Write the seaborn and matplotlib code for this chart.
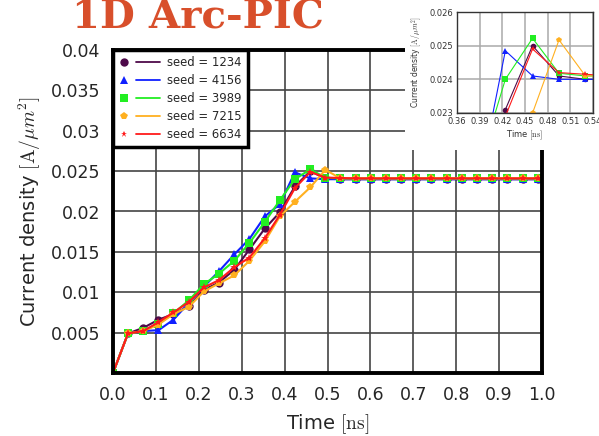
import numpy as np
import pandas as pd
import matplotlib
matplotlib.use("Agg")
import matplotlib.pyplot as plt
import seaborn as sns
from matplotlib.lines import Line2D
from matplotlib.patches import Rectangle
from matplotlib.legend_handler import HandlerBase

# ---------------- data ----------------
time_ns = [0.0, 0.035, 0.071, 0.106, 0.141, 0.177, 0.212, 0.247, 0.283, 0.318,
           0.354, 0.389, 0.424, 0.460, 0.495, 0.530, 0.566, 0.601, 0.636, 0.672,
           0.707, 0.742, 0.778, 0.813, 0.849, 0.884, 0.919, 0.955, 0.990]

seed_1234 = [0.0, 0.0049, 0.0056, 0.0066, 0.0073, 0.0083, 0.0103, 0.0112, 0.0128, 0.0153,
             0.0179, 0.0199, 0.0231, 0.0250, 0.0241, 0.0240, 0.0240, 0.0240, 0.0240, 0.0240,
             0.0240, 0.0240, 0.0240, 0.0240, 0.0240, 0.0240, 0.0240, 0.0240, 0.0240]
seed_4156 = [0.0, 0.0049, 0.0052, 0.0053, 0.0066, 0.0087, 0.0107, 0.0126, 0.0147, 0.0166,
             0.0194, 0.0209, 0.02485, 0.0241, 0.0240, 0.0240, 0.0240, 0.0240, 0.0240, 0.0240,
             0.0240, 0.0240, 0.0240, 0.0240, 0.0240, 0.0240, 0.0240, 0.0240, 0.0240]
seed_3989 = [0.0, 0.0049, 0.0052, 0.0061, 0.0074, 0.0090, 0.0110, 0.0123, 0.0139, 0.0161,
             0.0187, 0.0214, 0.0240, 0.02522, 0.02418, 0.0241, 0.0241, 0.0241, 0.0241, 0.0241,
             0.0241, 0.0241, 0.0241, 0.0241, 0.0241, 0.0241, 0.0241, 0.0241, 0.0241]
seed_7215 = [0.0, 0.0049, 0.0052, 0.0060, 0.0073, 0.0082, 0.0101, 0.0111, 0.0121, 0.0139,
             0.0163, 0.0194, 0.0212, 0.0230, 0.02517, 0.0241, 0.0241, 0.0241, 0.0241, 0.0241,
             0.0241, 0.0241, 0.0241, 0.0241, 0.0241, 0.0241, 0.0241, 0.0241, 0.0241]
seed_6634 = [0.0, 0.0049, 0.0052, 0.0063, 0.0075, 0.0088, 0.0106, 0.0115, 0.0131, 0.0143,
             0.0167, 0.0196, 0.0229, 0.0249, 0.0242, 0.02415, 0.0241, 0.0241, 0.0241, 0.0241,
             0.0241, 0.0241, 0.0241, 0.0241, 0.0241, 0.0241, 0.0241, 0.0241, 0.0241]

seed_labels = ["seed = 1234", "seed = 4156", "seed = 3989", "seed = 7215", "seed = 6634"]
series = [seed_1234, seed_4156, seed_3989, seed_7215, seed_6634]

x_ticks = [0.0, 0.1, 0.2, 0.3, 0.4, 0.5, 0.6, 0.7, 0.8, 0.9, 1.0]
x_tick_labels = ["0.0", "0.1", "0.2", "0.3", "0.4", "0.5", "0.6", "0.7", "0.8", "0.9", "1.0"]
y_ticks = [0.005, 0.01, 0.015, 0.02, 0.025, 0.03, 0.035, 0.04]
y_tick_labels = ["0.005", "0.01", "0.015", "0.02", "0.025", "0.03", "0.035", "0.04"]

inset_x_ticks = [0.36, 0.39, 0.42, 0.45, 0.48, 0.51, 0.54]
inset_x_labels = ["0.36", "0.39", "0.42", "0.45", "0.48", "0.51", "0.54"]
inset_y_ticks = [0.023, 0.024, 0.025, 0.026]
inset_y_labels = ["0.023", "0.024", "0.025", "0.026"]

title_text = "1D Arc-PIC"

# ---------------- styles ----------------
colors = {"seed = 1234": "#4e0a4a", "seed = 4156": "#1020ff", "seed = 3989": "#22ee22",
          "seed = 7215": "#ffb020", "seed = 6634": "#ff1a1a"}
markers = {"seed = 1234": "o", "seed = 4156": "^", "seed = 3989": "s",
           "seed = 7215": "p", "seed = 6634": "*"}

rows = []
for lab, vals in zip(seed_labels, series):
    for t, v in zip(time_ns, vals):
        rows.append({"time": t, "J": v, "seed": lab})
df = pd.DataFrame(rows)

sns.set_style("white")
plt.rcParams["font.family"] = ["DejaVu Sans"]
plt.rcParams["mathtext.fontset"] = "cm"

fig = plt.figure(figsize=(5.99, 4.36), dpi=100)
ax = fig.add_axes([113 / 599, 1 - 373 / 436, (542 - 113) / 599, (373 - 50) / 436])
ax.set_zorder(0)

sns.lineplot(data=df, x="time", y="J", hue="seed", style="seed", hue_order=seed_labels,
             style_order=seed_labels, palette=colors, markers=markers, dashes=False,
             markersize=6, markeredgewidth=0, linewidth=1.5, legend=False, ax=ax)

ax.set_xlim(0, 1.0)
ax.set_ylim(0, 0.04)
ax.set_xticks(x_ticks)
ax.set_xticklabels(x_tick_labels)
ax.set_yticks(y_ticks)
ax.set_yticklabels(y_tick_labels)
ax.tick_params(length=0, labelsize=12.5, pad=9)
ax.grid(True, color="#444444", linewidth=1.2)
ax.set_axisbelow(True)
for s in ax.spines.values():
    s.set_linewidth(2.8)
    s.set_color("black")
ax.set_xlabel("Time $[\\mathrm{ns}]$", fontsize=14, labelpad=6)
ax.set_ylabel("Current density $[\\mathrm{A}/\\mu m^2]$", fontsize=14, labelpad=6)


class MarkerLineHandler(HandlerBase):
    def create_artists(self, legend, orig_handle, xdescent, ydescent, width, height,
                       fontsize, trans):
        c = orig_handle.get_color()
        m = orig_handle.get_marker()
        ms = orig_handle.get_markersize()
        y = height / 2 - ydescent
        mk = Line2D([width * 0.1 - xdescent], [y], marker=m, color=c, linestyle="None",
                    markersize=ms, markeredgewidth=0, transform=trans)
        ln = Line2D([width * 0.4 - xdescent, width - xdescent], [y, y], color=c,
                    linewidth=1.3, transform=trans)
        return [mk, ln]


handles = [Line2D([], [], color=colors[l], marker=markers[l], markersize=6 if markers[l] != "*" else 5)
           for l in seed_labels]
leg = ax.legend(handles, seed_labels, loc="upper left", borderaxespad=0, fancybox=False,
                framealpha=1, edgecolor="black", fontsize=8.4, handlelength=3.5,
                handletextpad=0.55, labelspacing=0.42, borderpad=0.55,
                handler_map={Line2D: MarkerLineHandler()})
leg.get_frame().set_linewidth(2.5)

# white backing behind the inset
fig.patches.append(Rectangle((405 / 599, 1 - 150 / 436), 194 / 599, 150 / 436,
                             transform=fig.transFigure, facecolor="white",
                             edgecolor="none", zorder=1))

# ---------------- inset ----------------
axi = fig.add_axes([457 / 599, 1 - 113 / 436, (593 - 457) / 599, (113 - 12) / 436])
axi.set_zorder(2)
sns.lineplot(data=df, x="time", y="J", hue="seed", style="seed", hue_order=seed_labels,
             style_order=seed_labels, palette=colors, markers=markers, dashes=False,
             markersize=4, markeredgewidth=0, linewidth=0.8, legend=False, ax=axi)
axi.set_xlim(0.36, 0.54)
axi.set_ylim(0.023, 0.026)
axi.set_xticks(inset_x_ticks)
axi.set_xticklabels(inset_x_labels)
axi.set_yticks(inset_y_ticks)
axi.set_yticklabels(inset_y_labels)
axi.tick_params(length=0, labelsize=6, pad=3, colors="#333333")
axi.grid(True, color="#aaaaaa", linewidth=1.1)
axi.set_axisbelow(True)
for s in axi.spines.values():
    s.set_linewidth(1.0)
    s.set_color("#333333")
axi.set_xlabel("Time $[\\mathrm{ns}]$", fontsize=6, labelpad=2, color="#333333")
axi.set_ylabel("Current density $[\\mathrm{A}/\\mu m^2]$", fontsize=5.5, labelpad=3, color="#333333")

fig.text(72 / 599, 1 - 28 / 436, title_text, fontsize=29, fontweight="bold",
         family=["DejaVu Serif"], color="#d84f2b", va="baseline", ha="left", zorder=3)

fig.savefig("out.png", dpi=100)
